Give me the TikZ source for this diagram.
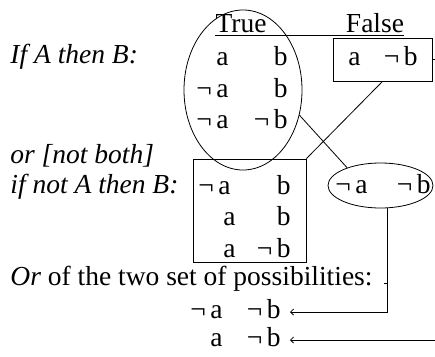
\documentclass[tikz,border=0pt]{standalone}
\usepackage{fontspec}
\setmainfont{Liberation Serif}
\usetikzlibrary{arrows.meta, shapes.geometric}

\begin{document}
\begin{tikzpicture}[x=1pt, y=-1pt, line width=0.8pt,
    font=\fontsize{27.5}{33}\selectfont,
    >={Straight Barb[length=3pt, width=6pt]}] % small open arrow tips
    % Styles for the table cells and the italic captions
    \tikzset{
        cell/.style={
            anchor=base east,
            inner sep=0pt
        },
        caption/.style={
            anchor=base west,
            inner sep=0pt,
            font=\fontsize{27.5}{33}\selectfont\itshape
        },
        setbox/.style={
            draw,
            inner sep=0pt
        }
    }

    % Fixed frame of the picture
    \useasboundingbox (0,0) rectangle (435,356);
    \clip (0,0) rectangle (435,356);

    % --- Captions on the left ---
    \node[caption] (ifab) at (10,63) {If A then B:};
    \node[caption] (notboth) at (10,163) {or [not both]};
    \node[caption] (ifnotab) at (10,193) {if not A then B:};
    \node[caption, font=\fontsize{27.5}{33}\selectfont] (orsets) at (10,285)
        {\textit{Or} of the two set of possibilities:\hspace{-4pt}};

    % --- Headers ---
    \node[anchor=base, inner sep=0pt] (true) at (241,32) {True};
    \node[anchor=base, inner sep=0pt] (false) at (375,32) {False};
    \draw ([yshift=-3pt]true.base west) -- ([yshift=-3pt]false.base east);

    % --- True possibilities (ellipse) ---
    \node[setbox, ellipse, minimum width=118pt, minimum height=160pt] (trueset) at (243,90) {};
    \node[cell] (t1a) at (229,65) {a};
    \node[cell] (t1b) at (288,65) {b};
    \node[cell] (t2a) at (229,97) {¬\,a};
    \node[cell] (t2b) at (288,97) {b};
    \node[cell] (t3a) at (229,128) {¬\,a};
    \node[cell] (t3b) at (288,128) {¬\,b};

    % --- False possibility (box) ---
    \node[setbox, minimum width=99pt, minimum height=43pt] (falsebox) at (382.5,59.5) {};
    \node[cell] (f1a) at (361,65) {a};
    \node[cell] (f1b) at (418,65) {¬\,b};

    % --- Possibilities of "if not A then B" (box) ---
    \node[setbox, minimum width=113pt, minimum height=103pt] (lowerbox) at (249.5,210.5) {};
    \node[cell] (l1a) at (231,194) {¬\,a};
    \node[cell] (l1b) at (291,194) {b};
    \node[cell] (l2a) at (236,225) {a};
    \node[cell] (l2b) at (291,225) {b};
    \node[cell] (l3a) at (236,257) {a};
    \node[cell] (l3b) at (291,257) {¬\,b};

    % --- Possibility left out (small ellipse) ---
    \node[setbox, ellipse, minimum width=105pt, minimum height=45pt] (falseset) at (380.5,185.5) {};
    \node[cell] (s1a) at (368,193) {¬\,a};
    \node[cell] (s1b) at (431,193) {¬\,b};

    % --- Result of the Or ---
    \node[cell] (r1a) at (223,318) {¬\,a};
    \node[cell] (r1b) at (281,318) {¬\,b};
    \node[cell] (r2a) at (223,346) {a};
    \node[cell] (r2b) at (281,346) {¬\,b};

    % --- Connectors ---
    \draw (falsebox.south) -- (lowerbox.north east);
    \draw (trueset.-24) -- (falseset.152);

    \coordinate (tip1) at (290,312);
    \coordinate (tip2) at (290,340);
    \coordinate (stub) at (384,283);
    \draw[->] (falseset.-72) |- (tip1);
    \draw (stub) -- (stub -| falseset.-72);
    \draw[->] (falsebox.east) -- ++(12,0) |- (tip2);

\end{tikzpicture}
\end{document}
